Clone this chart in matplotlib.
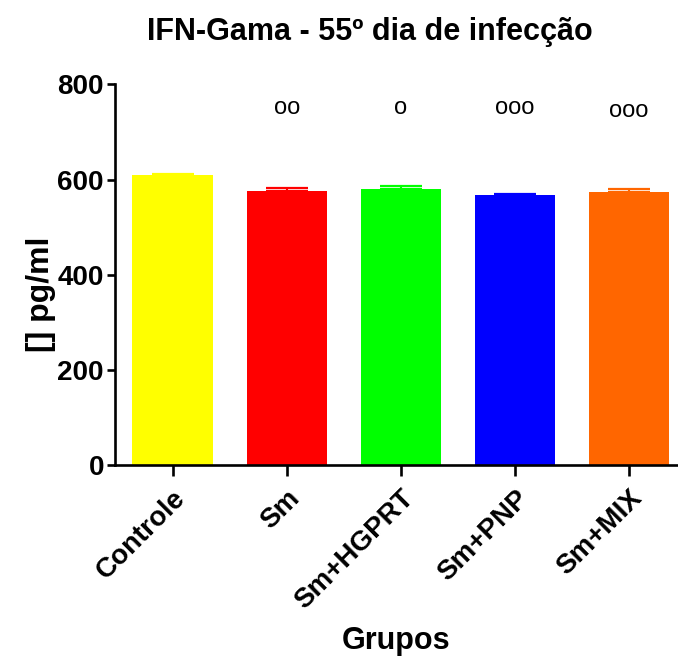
import matplotlib
matplotlib.use("Agg")
import matplotlib.pyplot as plt
import numpy as np

plt.rcParams['font.family'] = ['Liberation Sans', 'DejaVu Sans']

groups = ["Controle", "Sm", "Sm+HGPRT", "Sm+PNP", "Sm+MIX"]
means = [610, 577, 581, 568, 574]
errors = [3, 5, 5, 1.5, 5.5]
colors = ["#FFFF00", "#FF0000", "#00FF00", "#0000FF", "#FF6600"]
marks = ["", "oo", "o", "ooo", "ooo"]
mark_y = [0, 750, 750, 750, 745]

fig = plt.figure(figsize=(6.78, 6.60), dpi=100)
ax = fig.add_axes([0.1696, 0.2947, 0.829, 0.5773])

x = np.arange(len(groups))
ax.bar(x, means, width=0.705, color=colors, zorder=2)
for xi, m, e, c in zip(x, means, errors, colors):
    ax.errorbar(xi, m, yerr=[[0], [e]], fmt="none", ecolor=c,
                elinewidth=1.5, capsize=15, capthick=1.6, zorder=3)

for xi, t, ty in zip(x, marks, mark_y):
    if t:
        ax.text(xi, ty, t, ha="center", va="center", fontsize=17)

ax.set_xlim(-0.505, 4.42)
ax.set_ylim(0, 800)
ax.set_yticks([0, 200, 400, 600, 800])
ax.set_xticks(x)
ax.set_xticklabels(groups, rotation=45, ha="right", rotation_mode="anchor",
                   fontsize=20, fontweight="bold")
for lbl in ax.get_yticklabels():
    lbl.set_fontsize(20)
    lbl.set_fontweight("bold")

for s in ["top", "right"]:
    ax.spines[s].set_visible(False)
for s in ["left", "bottom"]:
    ax.spines[s].set_linewidth(1.9)
ax.tick_params(axis="y", length=6, width=1.9, pad=2)
ax.tick_params(axis="x", length=8, width=1.9, pad=6)

fig.text(41 / 678, 1 - 294 / 660, "[] pg/ml", rotation=90, ha="center",
         va="center", fontsize=23, fontweight="bold")
fig.text(396 / 678, 1 - 641 / 660, "Grupos", ha="center", va="center",
         fontsize=22, fontweight="bold")
fig.text(370 / 678, 1 - 32 / 660, "IFN-Gama - 55º dia de infecção",
         ha="center", va="center", fontsize=22, fontweight="bold")

fig.savefig("out.png", dpi=100)
